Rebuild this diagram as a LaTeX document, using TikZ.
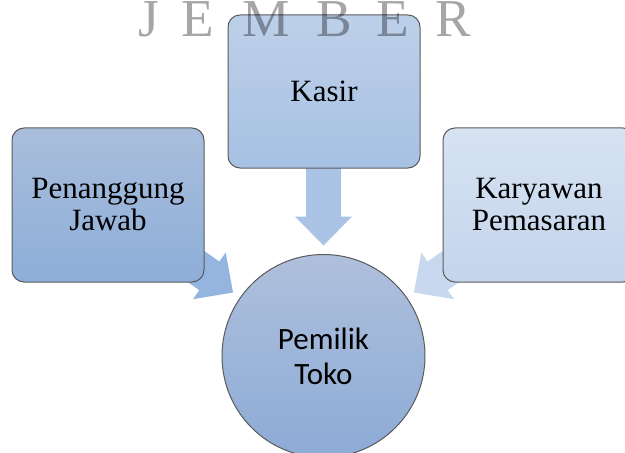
\documentclass[tikz,border=0pt]{standalone}
\usepackage{fontspec}
\setmainfont{Liberation Serif}
\newfontfamily\carlitofont{Carlito}
\definecolor{pjtop}{HTML}{A9BEDC}
\definecolor{pjbot}{HTML}{8DAED8}
\definecolor{kstop}{HTML}{BDD0E9}
\definecolor{ksbot}{HTML}{A7C1E3}
\definecolor{kptop}{HTML}{D7E3F2}
\definecolor{kpbot}{HTML}{C3D4EC}
\definecolor{pttop}{HTML}{AFC0DC}
\definecolor{ptbot}{HTML}{8CABD6}
\definecolor{arrleft}{HTML}{93B5DF}
\definecolor{arrmid}{HTML}{ABC4E5}
\definecolor{arrright}{HTML}{C8D9EF}
\definecolor{edgegray}{HTML}{5A5A5A}
\pgfdeclarelayer{bg}
\pgfsetlayers{bg,main}
\newcommand\blockarr[3]{%
  \begin{scope}[shift={(#1.center)}, rotate=#2]
    \fill[#3] (110.5,0) -- (139.5,28.5) -- (139.5,17.5) -- (199.5,17.5)
      -- (199.5,-17.5) -- (139.5,-17.5) -- (139.5,-28.5) -- cycle;
  \end{scope}}
\begin{document}
\begin{tikzpicture}[x=0.75pt,y=-0.75pt,
  box/.style={rectangle, rounded corners=9pt, draw=edgegray, line width=0.75pt,
    minimum width=144pt, minimum height=115.5pt, inner sep=0pt, align=center,
    font=\fontsize{23.25pt}{24pt}\selectfont},
  circ/.style={circle, draw=edgegray, line width=0.75pt, minimum size=152.25pt,
    inner sep=0pt, align=center, top color=pttop, bottom color=ptbot,
    font=\carlitofont\fontsize{23.25pt}{26.25pt}\selectfont},
  wm/.style={anchor=base, inner sep=0pt, text=black, text opacity=0.35,
    font=\fontsize{40pt}{42pt}\selectfont}]
\useasboundingbox (0,0) rectangle (625,453);
\clip (0,0) rectangle (625,453);

\node[box, top color=pjtop, bottom color=pjbot] (pj) at (108,205) {Penanggung\\Jawab};
\node[box, minimum height=114.75pt, top color=kstop, bottom color=ksbot] (ks) at (324,91.5) {Kasir};
\node[box, top color=kptop, bottom color=kpbot] (kp) at (539,205) {Karyawan\\Pemasaran};
\node[circ] (pt) at (323.5,356) {Pemilik\\Toko};

\begin{pgfonlayer}{bg}
  \blockarr{pt}{144.93}{arrleft}
  \blockarr{pt}{90}{arrmid}
  \blockarr{pt}{35.07}{arrright}
\end{pgfonlayer}

\node[wm] (w1) at (148.5,37) {J};
\node[wm] (w2) at (197.5,37) {E};
\node[wm] (w3) at (266,37) {M};
\node[wm] (w4) at (334.5,37) {B};
\node[wm] (w5) at (393,37) {E};
\node[wm] (w6) at (453,37) {R};
\end{tikzpicture}
\end{document}
